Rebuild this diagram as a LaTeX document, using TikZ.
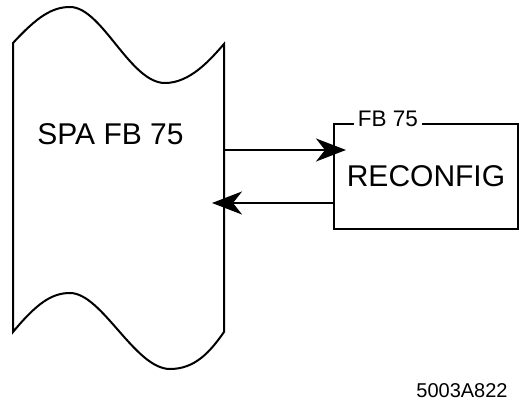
\documentclass[tikz,border=0pt]{standalone}
\usepackage{fontspec}
\setmainfont{Liberation Sans}
\usetikzlibrary{arrows.meta}
\begin{document}
\begin{tikzpicture}[x=1pt, y=-1pt, line width=2pt,
    flow/.style={-{Stealth[length=30pt, width=23pt, inset=9pt]}, shorten >=-12pt},
    bigtext/.style={font=\fontsize{30}{36}\selectfont},
    smalltext/.style={font=\fontsize{22.5}{27}\selectfont}]
    \useasboundingbox (0,0) rectangle (519,403);

    % Program block with wavy top and bottom
    \draw (13,43) .. controls (37,17) and (52,7) .. (70,7)
        .. controls (102,7) and (130,83) .. (165,83)
        .. controls (190,83) and (210,60) .. (224,44)
        -- (224,332)
        .. controls (210,352) and (195,369) .. (170,369)
        .. controls (135,369) and (102,293) .. (70,293)
        .. controls (52,293) and (37,303) .. (13,332)
        -- cycle;
    \node[bigtext] (spa) at (110.5,134.5) {SPA FB 75};
    \coordinate (spaout) at (224,150);
    \coordinate (spain) at (224,203);

    % Function block
    \node[bigtext, minimum width=182pt, minimum height=103pt] (reconfig) at (426,176.5) {RECONFIG};
    \node[smalltext, anchor=base, inner xsep=3pt] (fbtag) at (388,126.5) {FB 75};
    \draw (fbtag.west |- reconfig.north) -- (reconfig.north west) -- (reconfig.south west)
        -- (reconfig.south east) -- (reconfig.north east) -- (fbtag.east |- reconfig.north);

    % Call and return
    \draw[flow] (spaout) -- (spaout -| reconfig.west);
    \draw[flow] (reconfig.west |- spain) -- (spain);

    % Figure number
    \node[font=\fontsize{20}{24}\selectfont, anchor=base] (fignum) at (462,397) {5003A822};
\end{tikzpicture}
\end{document}
